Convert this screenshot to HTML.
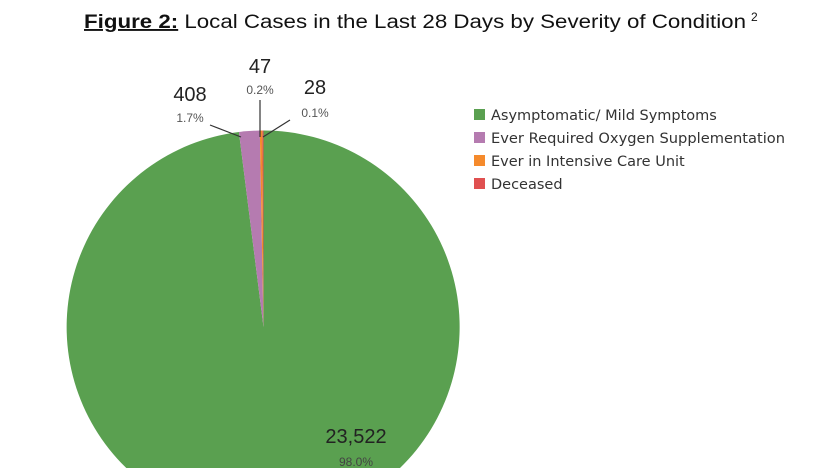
<!DOCTYPE html>
<html><head><style>
html,body{margin:0;padding:0;width:830px;height:468px;background:#fff;overflow:hidden;font-family:"Liberation Sans",Arial,sans-serif}
svg{display:block}
</style></head><body>
<svg width="830" height="468" viewBox="0 0 830 468" xmlns="http://www.w3.org/2000/svg">
<text x="84" y="28" font-size="19" fill="#111" textLength="662" lengthAdjust="spacingAndGlyphs" font-family="Liberation Sans,Arial,sans-serif"><tspan font-weight="bold" text-decoration="underline">Figure 2:</tspan> Local Cases in the Last 28 Days by Severity of Condition</text>
<text x="751" y="21" font-size="12" fill="#111" font-family="Liberation Sans,Arial,sans-serif">2</text>
<g>
<path d="M263.5,327 L263.5,130.5 A196.5,196.5 0 1 1 238.9,132 Z" fill="#5aa050"/>
<path d="M263.5,327 L238.9,132 A196.5,196.5 0 0 1 259.8,130.5 Z" fill="#b57bb0"/>
<path d="M263.5,327 L259.8,130.5 A196.5,196.5 0 0 1 262.3,130.5 Z" fill="#f58a2c"/>
<path d="M263.5,327 L262.3,130.5 A196.5,196.5 0 0 1 263.5,130.5 Z" fill="#e05050"/>
</g>
<g stroke="#333" stroke-width="1.2">
<line x1="210" y1="125" x2="241" y2="137"/>
<line x1="260" y1="100" x2="260" y2="137"/>
<line x1="290" y1="120" x2="263" y2="137"/>
</g>
<g font-family="Liberation Sans,Arial,sans-serif">
<text x="190" y="101" font-size="20" fill="#222" text-anchor="middle">408</text>
<text x="190" y="122" font-size="12" fill="#555" text-anchor="middle">1.7%</text>
<text x="260" y="73" font-size="20" fill="#222" text-anchor="middle">47</text>
<text x="260" y="94" font-size="12" fill="#555" text-anchor="middle">0.2%</text>
<text x="315" y="94" font-size="20" fill="#222" text-anchor="middle">28</text>
<text x="315" y="117" font-size="12" fill="#555" text-anchor="middle">0.1%</text>
<text x="356" y="443" font-size="20" fill="#222" text-anchor="middle">23,522</text>
<text x="356" y="466" font-size="12" fill="#444" text-anchor="middle">98.0%</text>
</g>
<g font-family="DejaVu Sans,Liberation Sans,sans-serif" font-size="14.5" fill="#333">
<rect x="474" y="109" width="11" height="11" fill="#5aa050"/>
<text x="491" y="120">Asymptomatic/ Mild Symptoms</text>
<rect x="474" y="132" width="11" height="11" fill="#b57bb0"/>
<text x="491" y="143" textLength="294" lengthAdjust="spacingAndGlyphs">Ever Required Oxygen Supplementation</text>
<rect x="474" y="155" width="11" height="11" fill="#f58a2c"/>
<text x="491" y="166">Ever in Intensive Care Unit</text>
<rect x="474" y="178" width="11" height="11" fill="#e05050"/>
<text x="491" y="189">Deceased</text>
</g>
</svg>
</body></html>
